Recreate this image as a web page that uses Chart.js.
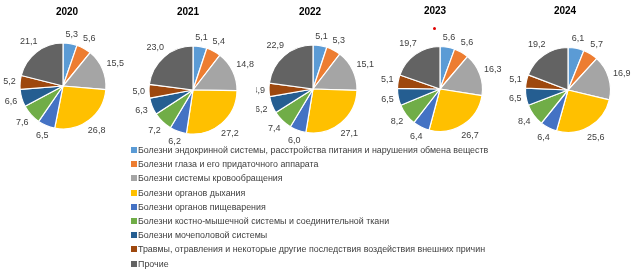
<!DOCTYPE html>
<html><head><meta charset="utf-8">
<script src="https://cdn.jsdelivr.net/npm/chart.js@4"></script>
<style>
body{margin:0;width:632px;height:274px;background:#fff;position:relative;overflow:hidden;font-family:"Liberation Sans",Arial,sans-serif}
canvas{position:absolute;top:0}
#legend{position:absolute;left:131px;top:143px;font-size:8.9px;color:#404040;z-index:10}
.item{height:14.2px;line-height:14.2px;white-space:nowrap;display:flex;align-items:center}
.box{display:inline-block;width:6px;height:6px;margin-right:1px;flex:none}
#dot{position:absolute;left:432.5px;top:26.5px;width:3px;height:3px;border-radius:50%;background:#e00000;z-index:10}
</style></head>
<body>
<div id="legend"></div>
<div id="dot"></div>
<script>
const categories = [
  'Болезни эндокринной системы, расстройства питания и нарушения обмена веществ',
  'Болезни глаза и его придаточного аппарата',
  'Болезни системы кровообращения',
  'Болезни органов дыхания',
  'Болезни органов пищеварения',
  'Болезни костно-мышечной системы и соединительной ткани',
  'Болезни мочеполовой системы',
  'Травмы, отравления и некоторые другие последствия воздействия внешних причин',
  'Прочие'
];
const years = ['2020','2021','2022','2023','2024'];
const values2020 = [5.3,5.6,15.5,26.8,6.5,7.6,6.6,5.2,21.1];
const values2021 = [5.1,5.4,14.8,27.2,6.2,7.2,6.3,5.0,23.0];
const values2022 = [5.1,5.3,15.1,27.1,6.0,7.4,6.2,4.9,22.9];
const values2023 = [5.6,5.6,16.3,26.7,6.4,8.2,6.5,5.1,19.7];
const values2024 = [6.1,5.7,16.9,25.6,6.4,8.4,6.5,5.1,19.2];
const seriesByYear = [values2020,values2021,values2022,values2023,values2024];

const colors = ['#5B9BD5','#ED7D31','#A5A5A5','#FFC000','#4472C4','#70AD47','#255E91','#9E480E','#636363'];

// layout (positions/sizes)
const layouts = [
  {left:0,   width:126, cx:63,  cy:86, r:43,   tx:67,  ty:12, z:1, bg:false},
  {left:126, width:130, cx:193, cy:90, r:44,   tx:188, ty:12, z:3, bg:true},
  {left:250, width:132, cx:313, cy:89, r:44,   tx:310, ty:12, z:1, bg:false},
  {left:375, width:130, cx:440, cy:89, r:42.5, tx:435, ty:11, z:1, bg:false},
  {left:500, width:132, cx:568, cy:90, r:42.5, tx:565, ty:11, z:1, bg:false}
];
const H = 150, BW = 1.2;

const fmt = v => v.toFixed(1).replace('.', ',');

const outLabels = {
  id:'outLabels',
  afterDatasetsDraw(chart, args, opts){
    const ctx = chart.ctx;
    const meta = chart.getDatasetMeta(0);
    const data = chart.data.datasets[0].data;
    ctx.save();
    ctx.font = '9px "Liberation Sans", Arial, sans-serif';
    ctx.fillStyle = '#404040';
    ctx.textAlign = 'center';
    ctx.textBaseline = 'middle';
    meta.data.forEach((arc,i)=>{
      const p = arc.getProps(['x','y','startAngle','endAngle','outerRadius'], true);
      const mid = (p.startAngle+p.endAngle)/2;
      const t = fmt(data[i]);
      const w = ctx.measureText(t).width, h = 9;
      const c = Math.cos(mid), s = Math.sin(mid);
      const d = p.outerRadius + 4 + Math.abs(c)*w/2 + Math.abs(s)*h/2;
      ctx.fillText(t, p.x + c*d, p.y + s*d);
    });
    ctx.font = 'bold 10px "Liberation Sans", Arial, sans-serif';
    ctx.fillStyle = '#000';
    ctx.fillText(opts.title, opts.tx, opts.ty);
    ctx.restore();
  }
};

years.forEach((yr, k)=>{
  const L = layouts[k];
  const cv = document.createElement('canvas');
  cv.width = L.width; cv.height = H;
  cv.style.left = L.left+'px';
  cv.style.width = L.width+'px'; cv.style.height = H+'px';
  cv.style.zIndex = L.z;
  if (L.bg) cv.style.background = '#fff';
  document.body.appendChild(cv);
  const lx = L.cx - L.left;
  const half = L.r + BW/2;
  new Chart(cv, {
    type:'pie',
    data:{labels:categories, datasets:[{data:seriesByYear[k], backgroundColor:colors, borderColor:'#fff', borderWidth:BW}]},
    plugins:[outLabels],
    options:{
      responsive:false, animation:false, devicePixelRatio:1,
      layout:{padding:{left:lx-half, right:L.width-lx-half, top:L.cy-half, bottom:H-L.cy-half}},
      plugins:{legend:{display:false}, tooltip:{enabled:false}, title:{display:false},
        outLabels:{title:yr, tx:L.tx-L.left, ty:L.ty}}
    }
  });
});

const lg = document.getElementById('legend');
categories.forEach((c,i)=>{
  const it = document.createElement('div'); it.className='item';
  const b = document.createElement('span'); b.className='box'; b.style.background=colors[i];
  const t = document.createElement('span'); t.textContent = c;
  it.appendChild(b); it.appendChild(t); lg.appendChild(it);
});
</script>
</body></html>
